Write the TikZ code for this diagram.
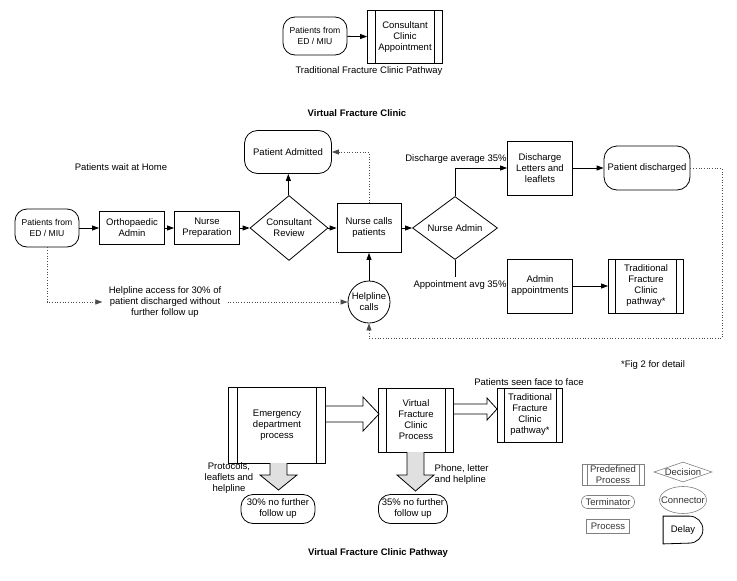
\documentclass[tikz,border=0pt]{standalone}
\usepackage{fontspec}
\setmainfont{Liberation Sans}
\usetikzlibrary{arrows.meta,shapes.geometric}
\tikzset{inset/.code={\def\ins{#1}}}

\begin{document}
\begin{tikzpicture}[x=1pt,y=-1pt,line width=0.8pt,>={Triangle[length=7pt,width=5pt]},
    font=\fontsize{9.5}{11}\selectfont]
    \tikzstyle{box}=[draw,rectangle,align=center,inner sep=1pt]
    \tikzstyle{term}=[box,rounded corners=12pt]
    \tikzstyle{predef}=[box,inset=7pt,path picture={
        \draw ([xshift=\ins]path picture bounding box.north west) -- ([xshift=\ins]path picture bounding box.south west)
              ([xshift=-\ins]path picture bounding box.north east) -- ([xshift=-\ins]path picture bounding box.south east);}]
    \tikzstyle{decision}=[draw,diamond,aspect=1.2,align=center,inner sep=0pt]
    \tikzstyle{dots}=[dotted,line width=0.7pt,black!70]
    \tikzstyle{title}=[font=\fontsize{9.5}{11}\selectfont\bfseries]
    \tikzstyle{small}=[font=\fontsize{8.6}{11}\selectfont]
    \tikzstyle{key}=[draw=black!50,line width=0.6pt,text=black!80,inner sep=0.5pt,align=center]
    \useasboundingbox (0,0) rectangle (737,581);

    % traditional pathway
    \node[term,small,minimum width=64,minimum height=38] (ed1) at (315,36) {Patients from\\ED / MIU};
    \node[predef,inset=8pt,minimum width=75,minimum height=53] (cca) at (405,37) {Consultant\\Clinic\\Appointment};
    \node (tfcp) at (369,71) {Traditional Fracture Clinic Pathway};
    \draw[->] (ed1) -- (cca);

    % virtual fracture clinic
    \node[title] (vfct) at (357,113) {Virtual Fracture Clinic};
    \node (home) at (121,167) {Patients wait at Home};

    \node[term,small,minimum width=64,minimum height=38] (ed2) at (47,228) {Patients from\\ED / MIU};
    \node[box,minimum width=65,minimum height=33] (orth) at (132,228) {Orthopaedic\\Admin};
    \node[box,minimum width=65,minimum height=33] (nprep) at (207,228) {Nurse\\Preparation};
    \node[decision,minimum width=78,minimum height=65] (crev) at (289,228) {Consultant\\Review};
    \node[term,rounded corners=13pt,minimum width=87,minimum height=43] (padm) at (288,152) {Patient Admitted};
    \node[box,minimum width=64,minimum height=49] (ncall) at (369,228) {Nurse calls\\patients};
    \node[decision,aspect=1.35,minimum width=85,minimum height=63] (nadm) at (455,228) {Nurse Admin};
    \node[box,minimum width=65,minimum height=54] (dis) at (540,168) {Discharge\\Letters and\\leaflets};
    \node[term,rounded corners=13pt,minimum width=86,minimum height=44] (pdis) at (647,168) {Patient discharged};
    \node[box,minimum width=65,minimum height=54] (aapp) at (540,286) {Admin\\appointments};
    \node[predef,minimum width=75,minimum height=54] (tfc) at (646,286) {Traditional\\Fracture\\Clinic\\pathway*};
    \node[draw,circle,minimum size=42,inner sep=0pt,align=center] (help) at (369,302) {Helpline\\calls};
    \node (disl) at (456,159) {Discharge average 35\%};
    \node (appl) at (460,285) {Appointment avg 35\%};
    \node[align=center,inner sep=6pt] (hlt) at (165,302) {Helpline access for 30\% of\\patient discharged without\\further follow up};
    \node (fig2) at (653,365) {*Fig 2 for detail};
    \coordinate (loop) at (722,338);

    \foreach \from/\to in {ed2/orth,orth/nprep,nprep/crev,crev/ncall,ncall/nadm,dis/pdis,aapp/tfc}
        \draw[->] (\from) -- (\to);
    \draw[->] (crev) -- (padm);
    \draw[->] (help) -- (ncall);
    \draw[->] (nadm.north) |- (dis.west);
    \draw (nadm.south) -- (nadm.south |- appl.north);

    \draw[dots,->] (ncall.north) |- (padm.east);
    \draw[dots,->] (ed2.south) |- (hlt.west);
    \draw[dots,->] (hlt.east) -- (help.west);
    \draw[dots,->] (pdis.east) -| (loop) -| (help.south);

    % virtual fracture clinic pathway
    \node[predef,inset=9pt,minimum width=97,minimum height=76] (edp) at (277,425) {Emergency\\department\\process};
    \node[predef,inset=8pt,minimum width=75,minimum height=64] (vfc) at (416,420) {Virtual\\Fracture\\Clinic\\Process};
    \node[predef,inset=6.5pt,minimum width=65,minimum height=54] (tfc2) at (530,415) {Traditional\\Fracture\\Clinic\\pathway*};
    \node (face) at (529,382) {Patients seen face to face};
    \node[term,minimum width=74,minimum height=29] (nf30) at (278,509) {30\% no further\\follow up};
    \node[term,minimum width=69,minimum height=29] (nf35) at (413,509) {35\% no further\\follow up};
    \node[align=center] (prot) at (229,478) {Protocols,\\leaflets and\\helpline};
    \node[align=left,anchor=west] (phone) at (431,475) {Phone, letter\\and helpline};
    \node[title] (vfcp) at (378,553) {Virtual Fracture Clinic Pathway};

    \draw[fill=white] (326,406) -- (363,406) -- (363,397) -- (379,414) -- (363,431) -- (363,422) -- (326,422);
    \draw[fill=white] (454,404) -- (487,404) -- (487,398) -- (497,409) -- (487,420) -- (487,414) -- (454,414);
    \draw[fill=black!12] (270,463) -- (270,475) -- (260,475) -- (278.5,490) -- (297,475) -- (287,475) -- (287,463);
    \draw[fill=black!12] (407,452) -- (407,475) -- (397,475) -- (415.5,491) -- (434,475) -- (424,475) -- (424,452);

    % key
    \node[key,predef,inset=5pt,draw=black!50,minimum width=62,minimum height=21] (kpre) at (613,475) {Predefined\\Process};
    \node[key,diamond,minimum width=58,minimum height=20,label={[text=black!80]center:Decision}] (kdec) at (683,472) {};
    \node[key,rounded corners=6pt,minimum width=53,minimum height=13] (kterm) at (608,502) {Terminator};
    \node[key,ellipse,minimum width=47,minimum height=27,label={[text=black!80]center:Connector}] (kcon) at (683,500) {};
    \node[key,minimum width=43,minimum height=14] (kproc) at (608,526) {Process};
    \node[minimum width=39,minimum height=27,inner sep=0pt] (kdel) at (683,530) {Delay};
    \draw (kdel.south west) -- (kdel.north west) -- ([xshift=-13.5pt]kdel.north east)
        arc[start angle=90,end angle=-90,radius=13.5pt] -- cycle;
\end{tikzpicture}
\end{document}
